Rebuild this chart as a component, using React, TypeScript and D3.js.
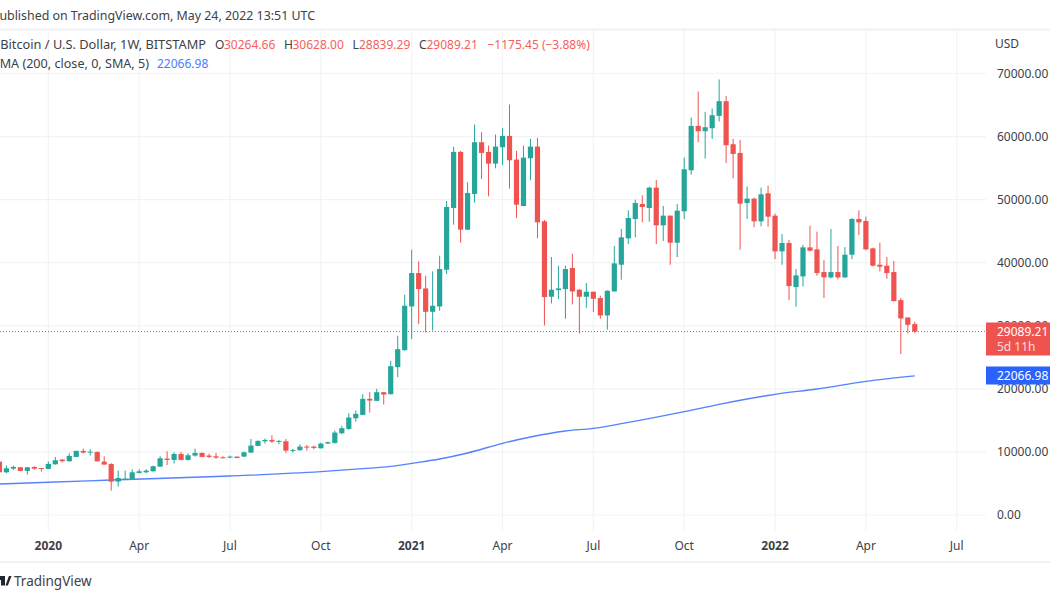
import React from "react";
import * as d3 from "d3";

const opens = [8466,6772,7354,7566,6984,7619,7460,7302,8042,8783,
8519,9206,10159,10000,10000,8466,8095,5291,5661,5714,
6667,6772,6931,7672,8942,8730,9683,8730,9418,9841,
9418,9312,9153,9101,9259,9259,9894,10952,11693,11905,
11640,11693,10212,10265,10847,10847,10582,11323,11429,12963,
13651,15344,15873,18413,18095,19471,19153,23439,26138,33069,
38360,35926,32222,33069,38889,48677,57566,45238,50899,59100,
57566,55714,58307,60106,56349,48995,56561,58413,46561,34603,
35661,35820,39153,35714,34603,35397,34392,31640,35450,39683,
43862,46931,49312,48677,51905,45926,47460,43175,48148,54656,
61693,60847,61323,63280,65608,58783,57407,49471,50159,46561,
51005,47460,41799,43122,36138,37830,42434,42116,38518,37672,
38518,37672,41270,46931,46614,42275,39683,39524,38518,34074,
31323,30264.66];

const closes = [6772,7407,7619,6984,7566,7354,7302,8095,8677,8519,
9365,10159,9894,10053,8519,7989,5291,5873,5767,6772,
6931,7037,7725,8995,8730,9683,8730,9471,9841,9206,
9206,9101,9048,9259,9048,9947,11005,11746,11905,11640,
11746,10212,10317,10847,10741,10635,11323,11534,13069,13757,
15450,16032,18413,18148,19471,19100,23598,26296,33175,38360,
35820,32222,33175,38995,48836,57566,45238,51058,59100,57407,
55714,58413,60106,56243,49206,56667,58413,46402,34550,35714,
35926,38995,35450,34603,35397,34286,31640,35556,39894,44021,
47090,49471,48836,51905,45926,47460,43175,48254,54815,61693,
60847,61481,63386,65608,58624,57249,49365,50159,46561,50847,
47301,41799,43122,36296,37989,42434,41905,38360,37672,38518,
37672,41270,46931,46402,42116,39524,39365,38360,33915,31164,
30159,29089.21];

const highs = [8571,7831,7831,7619,7619,7725,7460,8519,9206,8889,
9788,10212,10529,10423,10053,9312,8201,7037,7037,7249,
7249,7249,7831,9312,10106,9947,10000,9788,10529,9947,
9735,9841,9312,9418,9312,10053,12063,11852,12116,12645,
11905,12063,10476,11217,11111,11005,11481,11640,13386,14127,
16138,16561,19153,19471,20000,19471,24444,28413,34921,42063,
40212,37936,38624,41111,49788,58360,57725,52751,61905,60688,
58571,60317,61323,65079,57725,58571,59630,59788,46772,40899,
39524,39524,41429,35820,36772,35450,34762,35608,42645,45344,
48307,50000,50688,52063,53122,48995,47513,49312,56667,63016,
67143,63915,64444,69048,66455,59630,59471,52063,50318,51905,
52222,47778,44550,43598,38995,42804,45873,44921,40423,45344,
42645,42487,47090,48307,47301,42381,43175,40899,40265,34392,
31323,30628.00];

const lows = [6720,6614,7143,6931,6402,7196,6878,7249,7989,8360,
8466,9153,9735,9418,8466,7989,3862,4497,5556,5556,
6561,6614,6878,7619,7937,8148,8677,8624,9259,9153,
9048,8889,8995,8995,8995,9206,9841,10899,11323,11429,
11217,9841,9894,10212,10212,10423,10529,11270,11323,12804,
13492,14815,15820,16243,18042,17513,19100,21852,26032,27884,
30265,28942,29259,32381,38201,46032,43175,45185,49524,53280,
50529,54974,55503,51746,47090,48942,53069,43862,30053,33545,
34233,31111,33386,28783,32857,32169,31111,29365,35397,37302,
42963,44021,46402,46508,42963,43439,39683,40899,46931,53968,
59100,56508,59630,62381,55820,53386,42063,46931,45608,45767,
45714,40582,39683,34074,33016,36243,41799,37936,34392,37513,
37354,37619,40529,44391,41958,39418,38624,37460,33862,25503,
28783,28839.29];

const smaWeeks = [0,7,16,33,46,52,56,59,63,67,72,76,81,85,89,98,103,111,117,124,131];
const smaValues = [4915,5185,5550,6184,6865,7341,7700,8197,8879,9830,11368,12367,13319,13747,14476,16379,17552,19137,19978,21199,22066.98];

const priceTicks = [0,10000,20000,30000,40000,50000,60000,70000];
const timeTickWeeks = [7,20,33,46,59,72,85,98,111,124,137];
const timeTickLabels = ["2020","Apr","Jul","Oct","2021","Apr","Jul","Oct","2022","Apr","Jul"];

const GREEN = "#26a69a";
const RED = "#ef5350";
const BLUE = "#2962ff";
const GRID = "#f1f3f6";
const FONT = "'Noto Sans', sans-serif";
const INK = "#3d4148";

export default function App() {
  const x = d3.scaleLinear().domain([0, 131]).range([-0.6, 914.8]);
  const y = d3.scaleLinear().domain([0, 70000]).range([515, 73.5]);
  const lastClose = closes[closes.length - 1];
  const lastSma = smaValues[smaValues.length - 1];
  const smaLine = d3
    .line<number>()
    .x((d) => x(d))
    .y((_, i) => y(smaValues[i]))
    .curve(d3.curveMonotoneX)(smaWeeks) as string;

  return (
    <svg
      width={1050}
      height={600}
      viewBox="0 0 1050 600"
      style={{ position: "fixed", left: 0, top: 0, background: "#fff" }}
      fontFamily={FONT}
    >
      <defs>
        <filter id="soft" x="-2%" y="-2%" width="104%" height="104%">
          <feGaussianBlur stdDeviation="0.35" />
        </filter>
      </defs>

      <g stroke={GRID} strokeWidth={1.2}>
        {priceTicks.map((p) => (
          <line key={p} x1={0} x2={986} y1={y(p)} y2={y(p)} />
        ))}
        {timeTickWeeks.map((w) => (
          <line key={w} x1={x(w)} x2={x(w)} y1={30} y2={531} />
        ))}
      </g>
      <line x1={0} x2={1050} y1={29.5} y2={29.5} stroke="#eff1f7" strokeWidth={2} />
      <line x1={0} x2={1050} y1={562} y2={562} stroke="#eff1f7" strokeWidth={2} />

      <line
        x1={0}
        x2={986}
        y1={Math.floor(y(lastClose)) + 0.5}
        y2={Math.floor(y(lastClose)) + 0.5}
        stroke={RED}
        strokeWidth={1}
        strokeDasharray="1 2"
      />

      <g filter="url(#soft)">
        <path d={smaLine} fill="none" stroke={BLUE} strokeWidth={1.35} strokeOpacity={0.8} />
        {opens.map((o, i) => {
          const c = closes[i];
          const col = c >= o ? GREEN : RED;
          const top = y(Math.max(o, c));
          const bot = y(Math.min(o, c));
          return (
            <g key={i}>
              <line x1={x(i)} x2={x(i)} y1={y(highs[i])} y2={y(lows[i])} stroke={col} strokeWidth={1} />
              <rect x={x(i) - 2.6} width={5.2} y={top} height={Math.max(bot - top, 1)} fill={col} />
            </g>
          );
        })}
      </g>

      <g fontSize={12} fill={INK} textAnchor="start">
        {priceTicks.map((p) => (
          <text key={p} x={997} y={y(p) + 4.3}>
            {p.toFixed(2)}
          </text>
        ))}
        <text x={995} y={48}>USD</text>
      </g>

      <rect x={986} y={322.5} width={64} height={33} fill={RED} />
      <text x={997} y={335.5} fontSize={12} fill="#fff">29089.21</text>
      <text x={997} y={351} fontSize={12} fill="#fff" fillOpacity={0.8}>5d 11h</text>
      <rect x={986} y={366.5} width={64} height={18} fill={BLUE} />
      <text x={997} y={380} fontSize={12} fill="#fff">{lastSma.toFixed(2)}</text>

      <g fontSize={12} fill={INK} textAnchor="middle">
        {timeTickWeeks.map((w, i) => (
          <text
            key={w}
            x={x(w)}
            y={550}
            fontWeight={/^20/.test(timeTickLabels[i]) ? 700 : 400}
          >
            {timeTickLabels[i]}
          </text>
        ))}
      </g>

      <g fill={INK}>
        <text x={315} y={20} textAnchor="end" fontSize={12.4}>Published on TradingView.com, May 24, 2022 13:51 UTC</text>
        <text x={206} y={49} textAnchor="end" fontSize={12.8}>Bitcoin / U.S. Dollar, 1W, BITSTAMP</text>
        <text x={215} y={49} fontSize={12}>O</text>
        <text x={284} y={49} fontSize={12}>H</text>
        <text x={352.5} y={49} fontSize={12}>L</text>
        <text x={419} y={49} fontSize={12}>C</text>
        <text x={149} y={67.5} textAnchor="end" fontSize={12.6}>SMA (200, close, 0, SMA, 5)</text>
      </g>
      <g fontSize={12} fill="#f45f5c">
        <text x={224} y={49}>30264.66</text>
        <text x={292.5} y={49}>30628.00</text>
        <text x={359} y={49}>28839.29</text>
        <text x={426.5} y={49}>29089.21</text>
        <text x={487.5} y={49}>−1175.45 (−3.88%)</text>
      </g>
      <text x={157} y={67.5} fontSize={12} fill="#4a7dff">22066.98</text>

      <path d="M-4 576h9v9.5h-4v-5.5h-5z M5.5 585.5l3.4-9.5h2.6l-3.6 9.5z" fill="#23262e" />
      <text x={14} y={585.5} fontSize={13.5} fill={INK}>TradingView</text>
    </svg>
  );
}
